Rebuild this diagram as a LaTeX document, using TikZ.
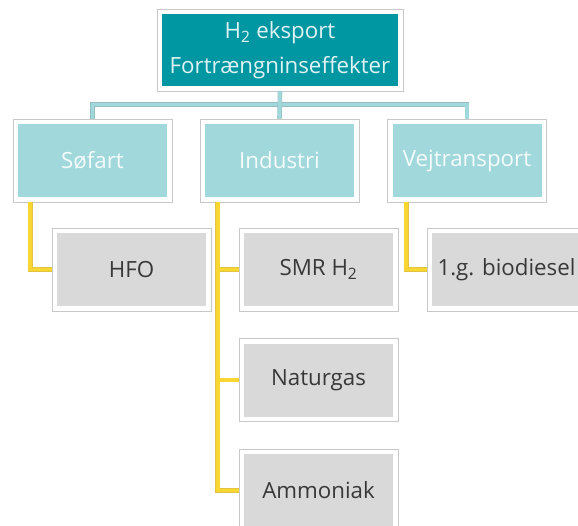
\documentclass[tikz,border=0pt]{standalone}
\usepackage{fontspec}
\setmainfont{Open Sans}
\usepackage{xcolor}
\usepackage{tikz}
\definecolor{topfill}{RGB}{0,150,162}
\definecolor{midfill}{RGB}{160,216,220}
\definecolor{leaffill}{RGB}{217,217,217}
\definecolor{yel}{RGB}{250,214,50}
\definecolor{frame}{RGB}{200,200,200}

\begin{document}
\begin{tikzpicture}[x=1pt,y=-1pt,
  box/.style={draw=frame,line width=0.6pt,fill=white,minimum width=159pt,minimum height=83pt,
              align=center,font=\fontsize{22.3}{35}\selectfont,inner sep=0pt,
              path picture={\fill[#1] ([shift={(5pt,5pt)}]path picture bounding box.south west)
                 rectangle ([shift={(-5pt,-5pt)}]path picture bounding box.north east);}},
  t/.style={box=topfill,minimum width=246pt,minimum height=82pt,text=topfill!12},
  m/.style={box=midfill,text=white!90!midfill},
  l/.style={box=leaffill,text=black!78},
  tl/.style={draw=midfill!70!gray,double=midfill,double distance=3.6pt,line width=0.5pt},
  yl/.style={draw=yel!80!gray,double=yel,double distance=3.6pt,line width=0.5pt}
]
\useasboundingbox (0,0) rectangle (578,525);
\clip (0,0) rectangle (578,525);
\node[t] (top) at (280,50)    {H\textsubscript{2} eksport\\Fortrængninseffekter};
\node[m] (sea) at (92.5,160.5) {Søfart};
\node[m] (ind) at (279.5,160.5) {Industri};
\node[m] (road) at (467,160.5) {Vejtransport};
\node[l] (hfo) at (131.5,269.5) {HFO};
\node[l] (smr) at (318.5,269.5) {SMR H\textsubscript{2}};
\node[l] (ngas) at (318.5,380) {Naturgas};
\node[l] (nh3) at (318.5,490.5) {Ammoniak};
\node[l] (bio) at (506.5,269.5) {1.g. biodiesel};
\draw[tl](top.south)--++(0,13)-|(sea.north);
\draw[tl](top.south)--++(0,13)-|(road.north);
\draw[tl](top.south)--(ind.north);
\draw[yl]([xshift=17.5pt]sea.south west)|-(hfo.west);
\draw[yl]([xshift=18pt]ind.south west)|-(smr.west);
\draw[yl]([xshift=18pt]ind.south west)|-(ngas.west);
\draw[yl]([xshift=18pt]ind.south west)|-(nh3.west);
\draw[yl]([xshift=19pt]road.south west)|-(bio.west);
\end{tikzpicture}
\end{document}
